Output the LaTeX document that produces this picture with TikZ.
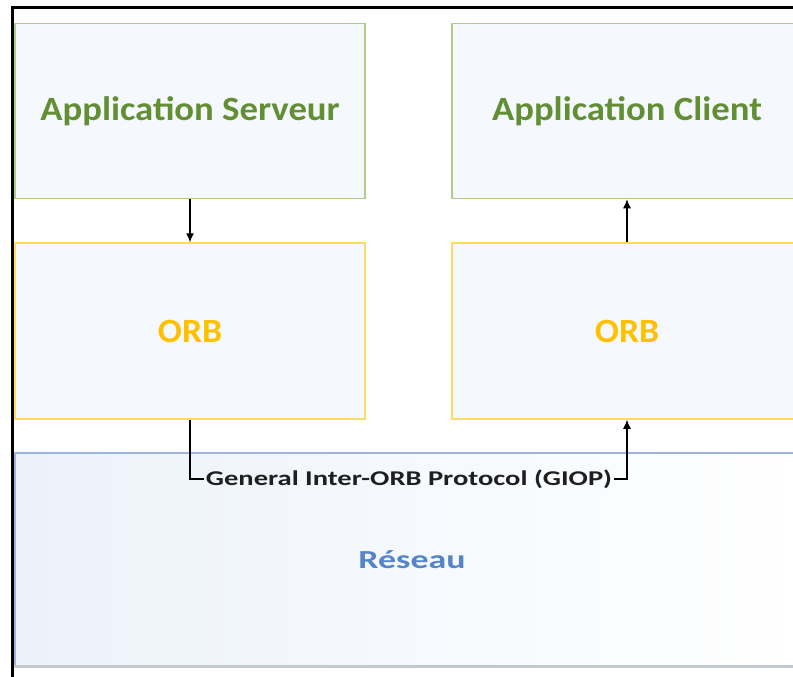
\documentclass[tikz,border=0pt]{standalone}
\usepackage{fontspec}
\setmainfont{Carlito}
\usetikzlibrary{arrows.meta}
\definecolor{appvert}{RGB}{98,142,52}
\definecolor{appbord}{RGB}{176,204,136}
\definecolor{orbtexte}{RGB}{255,192,0}
\definecolor{orbbord}{RGB}{255,218,102}
\definecolor{restexte}{RGB}{86,132,200}
\definecolor{resbord}{RGB}{160,178,222}
\definecolor{resombre}{RGB}{196,201,208}
\definecolor{boxfond}{RGB}{245,248,252}
\definecolor{resfond}{RGB}{236,242,250}
\tikzset{
  appbox/.style={draw=appbord,line width=1.5pt,fill=boxfond,minimum width=350pt,
    minimum height=175pt,text=appvert,font=\fontsize{34}{40}\selectfont\bfseries},
  orbbox/.style={draw=orbbord,line width=1.5pt,fill=boxfond,minimum width=350pt,
    minimum height=176pt,text=orbtexte,font=\fontsize{34}{40}\selectfont\bfseries},
  fleche/.style={line width=1.2pt,-{Latex[length=9pt,width=8pt]}},
}

\begin{document}
\begin{tikzpicture}[x=1pt,y=-1pt]
      \clip (0,0) rectangle (793,677);
      \fill[white] (0,0) rectangle (793,677);
      % reseau
      \node[draw=resbord,line width=1.5pt,left color=resfond,right color=white,
        minimum width=794pt,minimum height=213pt,text=restexte,
        font=\fontsize{26}{32}\selectfont\bfseries] (reseau) at (412,559.5) {\scalebox{1.38}[1]{Réseau}};
      \draw[resombre,line width=3pt] (reseau.south west) -- (reseau.south east);
      % applications et ORB
      \node[appbox] (serveur) at (190,111) {\scalebox{1.08}[1]{Application Serveur}};
      \node[appbox] (client) at (627,111) {\scalebox{1.08}[1]{Application Client}};
      \node[orbbox] (orbS) at (190,331) {\scalebox{1.05}[1]{ORB}};
      \node[orbbox] (orbC) at (627,331) {\scalebox{1.05}[1]{ORB}};
      \draw[fleche] (serveur.south) -- (orbS.north);
      \draw[fleche] (orbC.north) -- (client.south);
      % GIOP
      \node[inner sep=1.5pt,text={black!88},font=\fontsize{21}{24}\selectfont\bfseries]
        (giop) at (409,479) {\scalebox{1.36}[1]{General Inter-ORB Protocol (GIOP)}};
      \draw[line width=1.2pt] (orbS.south) |- (giop.west);
      \draw[fleche] (giop.east) -| (orbC.south);
      % cadre
      \draw[line width=3pt] (12,700) -- (12,8) -- (800,8);
\end{tikzpicture}
\end{document}
